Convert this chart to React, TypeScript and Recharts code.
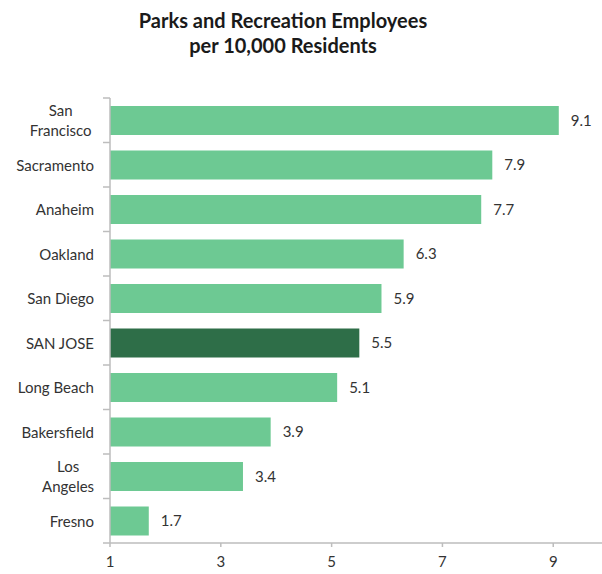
import { BarChart, Bar, XAxis, YAxis, Cell, LabelList } from 'recharts';

const cities = ['San\nFrancisco', 'Sacramento', 'Anaheim', 'Oakland', 'San Diego', 'SAN JOSE', 'Long Beach', 'Bakersfield', 'Los\nAngeles', 'Fresno'];
const employees = [9.1, 7.9, 7.7, 6.3, 5.9, 5.5, 5.1, 3.9, 3.4, 1.7];
const xTicks = [1, 3, 5, 7, 9];
const highlight = 'SAN JOSE';

const data = cities.map((city, i) => ({ city, value: employees[i] }));

const AXIS_X = 110;
const TOP = 98;
const BOTTOM = 543;
const BAND = (BOTTOM - TOP) / cities.length;
const FONT = 'Lato, "Open Sans", sans-serif';

const CityTick = (props: any) => {
  const { y, payload, index } = props;
  const lines: string[] = String(payload.value).split('\n');
  const longest = Math.max(...lines.map((l) => l.length));
  const lineH = 20;
  const top = y - ((lines.length - 1) * lineH) / 2;
  const rightEdge = 94;
  return (
    <g>
      <line x1={AXIS_X - 7} x2={AXIS_X} y1={y - BAND / 2} y2={y - BAND / 2} stroke="#bdbdbd" strokeWidth={1.5} />
      {index === cities.length - 1 && (
        <line x1={AXIS_X - 7} x2={AXIS_X} y1={y + BAND / 2} y2={y + BAND / 2} stroke="#bdbdbd" strokeWidth={1.5} />
      )}
      <text fontFamily={FONT} fontSize={15} fill="#333">
        {lines.map((l, i) =>
          lines.length > 1 ? (
            <tspan key={i} x={rightEdge - (longest * 7.4) / 2} y={top + i * lineH} textAnchor="middle" dominantBaseline="central">
              {l}
            </tspan>
          ) : (
            <tspan key={i} x={rightEdge} y={top} textAnchor="end" dominantBaseline="central">
              {l}
            </tspan>
          )
        )}
      </text>
    </g>
  );
};

export default function App() {
  return (
    <div style={{ position: 'absolute', left: 0, top: 0, width: 602, height: 574, background: '#fff' }}>
      <div
        style={{
          position: 'absolute',
          left: 0,
          top: 8,
          width: 566,
          textAlign: 'center',
          fontFamily: FONT,
          fontWeight: 700,
          fontSize: 20,
          lineHeight: '25px',
          color: '#1a1a1a',
        }}
      >
        Parks and Recreation Employees
        <br />
        per 10,000 Residents
      </div>
      <BarChart
        width={602}
        height={574}
        data={data}
        layout="vertical"
        margin={{ top: TOP, right: 0, bottom: 0, left: 0 }}
        barSize={29}
      >
        <XAxis
          type="number"
          domain={[1, 9.88]}
          ticks={xTicks}
          allowDataOverflow
          height={31}
          stroke="#bdbdbd"
          strokeWidth={1.5}
          tickSize={4}
          tickMargin={9}
          tick={{ fontFamily: FONT, fontSize: 15, fill: '#333' }}
        />
        <YAxis
          type="category"
          dataKey="city"
          width={AXIS_X}
          stroke="#bdbdbd"
          strokeWidth={1.5}
          tickLine={false}
          tick={<CityTick />}
          interval={0}
        />
        <Bar dataKey="value" isAnimationActive={false} fill="#6dc993">
          {data.map((d) => (
            <Cell key={d.city} fill={d.city === highlight ? '#2e6e48' : '#6dc993'} />
          ))}
          <LabelList
            dataKey="value"
            position="right"
            offset={12}
            style={{ fontFamily: FONT, fontSize: 15, fill: '#333' }}
            formatter={(v: any) => Number(v).toFixed(1)}
          />
        </Bar>
      </BarChart>
    </div>
  );
}
